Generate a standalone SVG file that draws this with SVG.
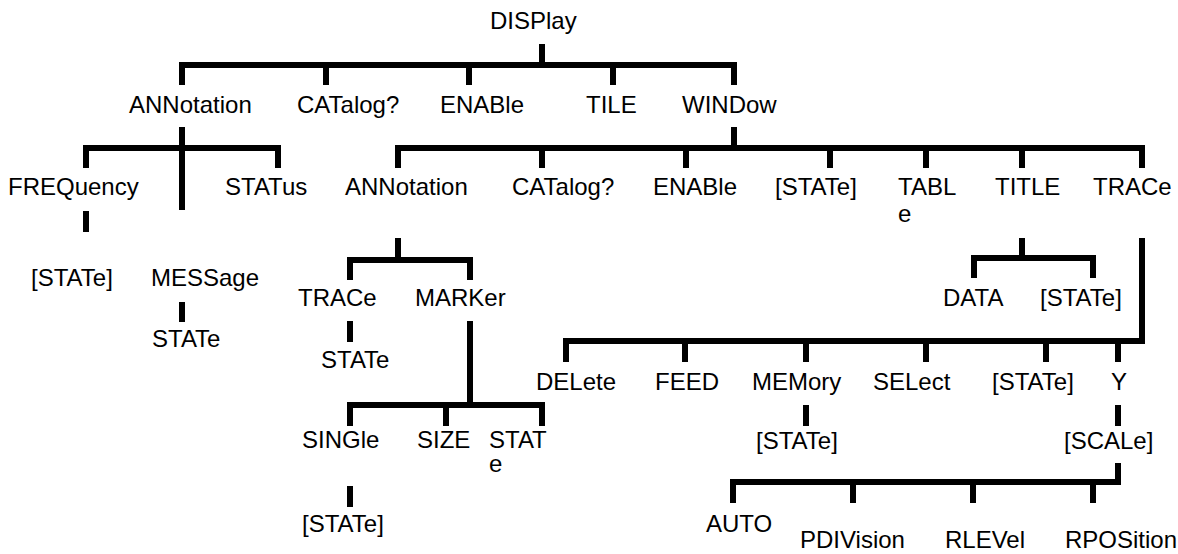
<svg xmlns="http://www.w3.org/2000/svg" width="1178" height="554" viewBox="0 0 1178 554">
<style>
text{font-family:"Liberation Sans",Arial,sans-serif;font-size:24px;fill:#000}
.c{fill:none;stroke:#000;stroke-width:6;stroke-linejoin:miter}
</style>
<rect width="1178" height="554" fill="#fff"/>
<g id="connectors" class="c">
<path d="M542 44V65"/><path d="M182 85V65H734V85"/><path d="M326 65V85M469 65V85M613 65V85"/>
<path d="M182 127V210"/><path d="M86 168V148H278V168"/><path d="M86 211V232"/><path d="M182 302V322"/>
<path d="M734 127V148"/><path d="M398 168V148H1142V168"/><path d="M542 148V168M686 148V168M830 148V168M926 148V168M1022 148V168"/>
<path d="M398 238V260"/><path d="M350 280V260H470V280"/><path d="M350 321V342"/>
<path d="M470 321V405"/><path d="M350 426V405H542V426"/><path d="M446 405V426"/><path d="M350 486V507"/>
<path d="M1022 238V258"/><path d="M974 278V258H1093V278"/>
<path d="M1142 238V341H566V362"/><path d="M685 341V362M806 341V362M926 341V362M1046 341V362M1118 341V362"/>
<path d="M806 405V426"/><path d="M1118 405V426"/>
<path d="M1118 463V482H733V503"/><path d="M853 482V503M973 482V503M1093 482V503"/>
</g>
<g id="display"><text x="490" y="29">DISPlay</text></g>
<g id="annotation"><text x="129" y="113">ANNotation</text></g>
<g id="catalog"><text x="297" y="113">CATalog?</text></g>
<g id="enable"><text x="440" y="113">ENABle</text></g>
<g id="tile"><text x="586" y="113">TILE</text></g>
<g id="window"><text x="682" y="113">WINDow</text></g>
<g id="ann-frequency"><text x="8" y="195">FREQuency</text></g>
<g id="ann-status"><text x="225" y="195">STATus</text></g>
<g id="ann-freq-state"><text x="31" y="286">[STATe]</text></g>
<g id="ann-message"><text x="151" y="286">MESSage</text></g>
<g id="ann-message-state"><text x="152" y="347">STATe</text></g>
<g id="win-annotation"><text x="345" y="195">ANNotation</text></g>
<g id="win-catalog"><text x="512" y="195">CATalog?</text></g>
<g id="win-enable"><text x="653" y="195">ENABle</text></g>
<g id="win-state"><text x="775" y="195">[STATe]</text></g>
<g id="win-table"><text x="898" y="195">TABL<tspan x="898" dy="27">e</tspan></text></g>
<g id="win-title"><text x="995" y="195">TITLE</text></g>
<g id="win-trace"><text x="1093" y="195">TRACe</text></g>
<g id="wann-trace"><text x="298" y="306">TRACe</text></g>
<g id="wann-trace-state"><text x="321" y="368">STATe</text></g>
<g id="wann-marker"><text x="415" y="306">MARKer</text></g>
<g id="marker-single"><text x="302" y="448">SINGle</text></g>
<g id="marker-size"><text x="417" y="448">SIZE</text></g>
<g id="marker-state"><text x="489" y="448">STAT<tspan x="489" dy="24">e</tspan></text></g>
<g id="single-state"><text x="302" y="532">[STATe]</text></g>
<g id="title-data"><text x="943" y="306">DATA</text></g>
<g id="title-state"><text x="1040" y="306">[STATe]</text></g>
<g id="trace-delete"><text x="536" y="390">DELete</text></g>
<g id="trace-feed"><text x="655" y="390">FEED</text></g>
<g id="trace-memory"><text x="752" y="390">MEMory</text></g>
<g id="trace-select"><text x="873" y="390">SELect</text></g>
<g id="trace-state"><text x="992" y="390">[STATe]</text></g>
<g id="trace-y"><text x="1111" y="390">Y</text></g>
<g id="memory-state"><text x="756" y="449">[STATe]</text></g>
<g id="y-scale"><text x="1064" y="449">[SCALe]</text></g>
<g id="scale-auto"><text x="706" y="532">AUTO</text></g>
<g id="scale-pdivision"><text x="800" y="548">PDIVision</text></g>
<g id="scale-rlevel"><text x="945" y="548">RLEVel</text></g>
<g id="scale-rposition"><text x="1065" y="548">RPOSition</text></g>
</svg>
